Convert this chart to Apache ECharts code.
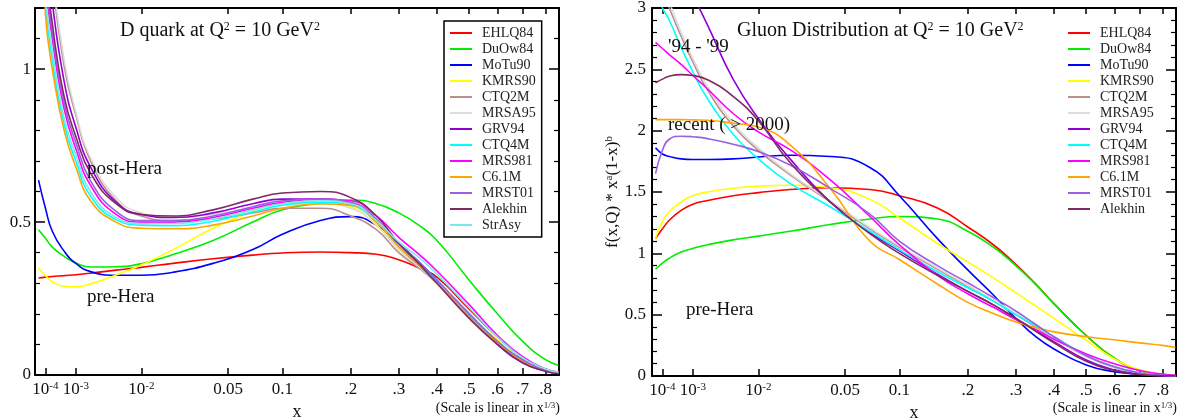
<!DOCTYPE html>
<html><head><meta charset="utf-8">
<script src="https://cdn.jsdelivr.net/npm/echarts@6/dist/echarts.min.js"></script>
<style>html,body{margin:0;padding:0;background:#fff}#c{width:1180px;height:419px}</style>
</head><body><div id="c"></div>
<script>
// ---- data ----
const xSamples = [4e-5, 1e-4, 2e-4, 5e-4, 1e-3, 2e-3, 5e-3, 0.01, 0.02, 0.04, 0.07, 0.1, 0.15, 0.2, 0.25, 0.3, 0.35, 0.4, 0.5, 0.6, 0.7, 0.8, 0.86];
const tickX = [1e-4, 1e-3, 1e-2, 0.05, 0.1, 0.2, 0.3, 0.4, 0.5, 0.6, 0.7, 0.8];
const tickLabels = ['10^-4', '10^-3', '10^-2', '0.05', '0.1', '.2', '.3', '.4', '.5', '.6', '.7', '.8'];

const dNames = ['EHLQ84','DuOw84','MoTu90','KMRS90','CTQ2M','MRSA95','GRV94','CTQ4M','MRS981','C6.1M','MRST01','Alekhin','StrAsy'];
const gNames = ['EHLQ84','DuOw84','MoTu90','KMRS90','CTQ2M','MRSA95','GRV94','CTQ4M','MRS981','C6.1M','MRST01','Alekhin'];

// D quark panel
const dq_EHLQ84 = [0.317, 0.32, 0.322, 0.325, 0.328, 0.333, 0.343, 0.352, 0.365, 0.38, 0.392, 0.399, 0.402, 0.4, 0.395, 0.377, 0.35, 0.32, 0.215, 0.125, 0.057, 0.018, 0.008];
const dq_DuOw84 = [0.475, 0.447, 0.418, 0.388, 0.366, 0.353, 0.354, 0.364, 0.394, 0.44, 0.5, 0.54, 0.562, 0.572, 0.56, 0.53, 0.49, 0.44, 0.31, 0.2, 0.11, 0.05, 0.032];
const dq_MoTu90 = [0.637, 0.545, 0.47, 0.405, 0.365, 0.338, 0.326, 0.326, 0.336, 0.365, 0.41, 0.46, 0.505, 0.518, 0.49, 0.43, 0.37, 0.31, 0.2, 0.11, 0.048, 0.015, 0.007];
const dq_KMRS90 = [0.35, 0.325, 0.305, 0.29, 0.288, 0.298, 0.327, 0.36, 0.41, 0.48, 0.535, 0.56, 0.568, 0.55, 0.49, 0.41, 0.355, 0.3, 0.2, 0.115, 0.05, 0.018, 0.009];
const dq_CTQ2M  = [2.05, 1.55, 1.3, 1.01, 0.85, 0.7, 0.57, 0.52, 0.505, 0.51, 0.53, 0.545, 0.545, 0.52, 0.475, 0.4, 0.35, 0.3, 0.2, 0.11, 0.05, 0.016, 0.008];
const dq_MRSA95 = [2.08, 1.58, 1.32, 1.03, 0.86, 0.71, 0.58, 0.53, 0.515, 0.525, 0.545, 0.56, 0.56, 0.545, 0.49, 0.41, 0.355, 0.3, 0.2, 0.11, 0.05, 0.016, 0.008];
const dq_GRV94  = [1.95, 1.45, 1.22, 0.96, 0.81, 0.68, 0.565, 0.525, 0.515, 0.53, 0.56, 0.575, 0.575, 0.56, 0.505, 0.42, 0.36, 0.3, 0.19, 0.1, 0.04, 0.012, 0.005];
const dq_CTQ4M  = [1.7, 1.22, 1.03, 0.82, 0.7, 0.585, 0.508, 0.49, 0.488, 0.503, 0.533, 0.555, 0.565, 0.555, 0.5, 0.42, 0.365, 0.31, 0.2, 0.11, 0.05, 0.017, 0.008];
const dq_MRS981 = [1.78, 1.3, 1.1, 0.87, 0.74, 0.62, 0.525, 0.5, 0.5, 0.515, 0.545, 0.565, 0.575, 0.57, 0.52, 0.45, 0.395, 0.34, 0.23, 0.13, 0.06, 0.02, 0.01];
const dq_C61M   = [1.65, 1.18, 1.0, 0.8, 0.68, 0.57, 0.5, 0.48, 0.478, 0.49, 0.52, 0.545, 0.56, 0.555, 0.5, 0.42, 0.36, 0.3, 0.19, 0.105, 0.045, 0.015, 0.007];
const dq_MRST01 = [1.8, 1.33, 1.12, 0.89, 0.76, 0.635, 0.535, 0.505, 0.505, 0.52, 0.55, 0.57, 0.575, 0.565, 0.51, 0.43, 0.37, 0.31, 0.2, 0.11, 0.05, 0.016, 0.008];
const dq_Alekhin= [1.85, 1.36, 1.15, 0.91, 0.78, 0.66, 0.56, 0.525, 0.52, 0.54, 0.575, 0.595, 0.6, 0.58, 0.52, 0.43, 0.365, 0.3, 0.185, 0.1, 0.04, 0.012, 0.005];
const dq_StrAsy = [1.72, 1.25, 1.06, 0.84, 0.72, 0.6, 0.515, 0.495, 0.495, 0.51, 0.54, 0.56, 0.57, 0.56, 0.505, 0.435, 0.385, 0.33, 0.22, 0.125, 0.056, 0.02, 0.01];

// Gluon panel
const gl_EHLQ84 = [1.12, 1.2, 1.27, 1.35, 1.4, 1.43, 1.47, 1.495, 1.52, 1.535, 1.52, 1.47, 1.37, 1.215, 1.07, 0.91, 0.75, 0.59, 0.33, 0.145, 0.045, 0.01, 0.003];
const gl_DuOw84 = [0.87, 0.92, 0.96, 1.01, 1.04, 1.07, 1.11, 1.14, 1.18, 1.235, 1.28, 1.3, 1.28, 1.18, 1.05, 0.9, 0.745, 0.59, 0.33, 0.145, 0.045, 0.01, 0.003];
const gl_MoTu90 = [1.86, 1.81, 1.79, 1.77, 1.765, 1.765, 1.77, 1.785, 1.8, 1.79, 1.7, 1.47, 1.12, 0.865, 0.66, 0.47, 0.32, 0.22, 0.09, 0.035, 0.014, 0.005, 0.002];
const gl_KMRS90 = [1.12, 1.26, 1.34, 1.42, 1.47, 1.5, 1.53, 1.548, 1.555, 1.535, 1.44, 1.29, 1.08, 0.93, 0.8, 0.68, 0.57, 0.47, 0.29, 0.14, 0.05, 0.012, 0.004];
const gl_CTQ2M  = [3.35, 3.15, 3.0, 2.77, 2.56, 2.33, 2.04, 1.84, 1.64, 1.42, 1.2, 1.05, 0.87, 0.73, 0.61, 0.5, 0.4, 0.31, 0.16, 0.07, 0.022, 0.005, 0.002];
const gl_MRSA95 = [3.4, 3.2, 3.05, 2.8, 2.59, 2.36, 2.06, 1.86, 1.65, 1.43, 1.21, 1.06, 0.88, 0.74, 0.62, 0.51, 0.41, 0.31, 0.16, 0.07, 0.022, 0.005, 0.002];
const gl_GRV94  = [3.8, 3.65, 3.52, 3.32, 3.11, 2.86, 2.42, 2.1, 1.77, 1.42, 1.17, 1.02, 0.83, 0.69, 0.58, 0.47, 0.37, 0.28, 0.13, 0.05, 0.015, 0.003, 0.001];
const gl_CTQ4M  = [3.15, 3.0, 2.9, 2.68, 2.48, 2.26, 1.97, 1.77, 1.57, 1.38, 1.18, 1.03, 0.85, 0.72, 0.61, 0.5, 0.41, 0.32, 0.17, 0.075, 0.025, 0.006, 0.002];
const gl_MRS981 = [2.72, 2.67, 2.62, 2.54, 2.45, 2.34, 2.14, 1.99, 1.845, 1.6, 1.3, 1.07, 0.82, 0.67, 0.56, 0.46, 0.38, 0.3, 0.18, 0.1, 0.045, 0.015, 0.005];
const gl_C61M   = [2.09, 2.09, 2.09, 2.09, 2.088, 2.085, 2.06, 2.03, 1.885, 1.53, 1.1, 0.95, 0.75, 0.6, 0.51, 0.44, 0.395, 0.36, 0.32, 0.295, 0.27, 0.25, 0.232];
const gl_MRST01 = [1.65, 1.84, 1.93, 1.955, 1.95, 1.935, 1.89, 1.83, 1.72, 1.53, 1.32, 1.1, 0.9, 0.76, 0.64, 0.53, 0.42, 0.32, 0.165, 0.075, 0.025, 0.006, 0.002];
const gl_Alekhin= [2.39, 2.42, 2.444, 2.457, 2.45, 2.415, 2.28, 2.08, 1.74, 1.42, 1.16, 1.0, 0.82, 0.69, 0.58, 0.47, 0.365, 0.27, 0.12, 0.045, 0.012, 0.002, 0.001];

const dqValues = [dq_EHLQ84, dq_DuOw84, dq_MoTu90, dq_KMRS90, dq_CTQ2M, dq_MRSA95, dq_GRV94, dq_CTQ4M, dq_MRS981, dq_C61M, dq_MRST01, dq_Alekhin, dq_StrAsy];
const glValues = [gl_EHLQ84, gl_DuOw84, gl_MoTu90, gl_KMRS90, gl_CTQ2M, gl_MRSA95, gl_GRV94, gl_CTQ4M, gl_MRS981, gl_C61M, gl_MRST01, gl_Alekhin];

// ---- styles ----
const colorOf = {
  EHLQ84:'#ff0000', DuOw84:'#00ee00', MoTu90:'#0000ff', KMRS90:'#ffff00', CTQ2M:'#bc8f8f',
  MRSA95:'#dcdcdc', GRV94:'#9400d3', CTQ4M:'#00ffff', MRS981:'#ff00ff', 'C6.1M':'#ffa500',
  MRST01:'#9b5fdf', Alekhin:'#7f2a64', StrAsy:'#7ee8e8'
};
const FONT = 'Liberation Serif';
const INK = '#111';

const chart = echarts.init(document.getElementById('c'), null, {renderer:'canvas'});

function toRich(lbl) {
  const m = lbl.match(/^10\^(.+)$/);
  return m ? '{b|10}{s|' + m[1] + '}' : '{b|' + lbl + '}';
}
function xFmt(v) {
  for (let j = 0; j < tickX.length; j++) {
    if (Math.abs(Math.cbrt(tickX[j]) - v) < 1e-6) return toRich(tickLabels[j]);
  }
  return '';
}
const tickU = tickX.map(Math.cbrt);
const U_MIN = 0.028, U_MAX = 0.952;
const lineStyleAx = {color:'#000', width:2};

function xAxes(grid) {
  return [
    { type:'value', gridIndex:grid, position:'bottom', min:U_MIN, max:U_MAX,
      axisLine:{show:true, onZero:false, lineStyle:lineStyleAx},
      axisTick:{show:true, inside:true, length:7, customValues:tickU, lineStyle:{color:'#000', width:1.5}},
      axisLabel:{show:true, customValues:tickU, formatter:xFmt, margin:6, color:INK,
        rich:{ b:{fontSize:17, fontFamily:FONT, color:INK}, s:{fontSize:11, fontFamily:FONT, color:INK, verticalAlign:'top'} } },
      splitLine:{show:false},
      name:'x', nameLocation:'middle', nameGap:19, nameTextStyle:{fontSize:18, fontFamily:FONT, color:INK} },
    { type:'value', gridIndex:grid, position:'top', min:U_MIN, max:U_MAX,
      axisLine:{show:true, onZero:false, lineStyle:lineStyleAx},
      axisTick:{show:true, inside:true, length:6, customValues:tickU, lineStyle:{color:'#000', width:1.5}},
      axisLabel:{show:false}, splitLine:{show:false} }
  ];
}
function yAxes(grid, max, labels, margin, name) {
  const base = { type:'value', gridIndex:grid, min:0, max:max, interval:0.5,
      axisLine:{show:true, onZero:false, lineStyle:lineStyleAx},
      axisTick:{show:true, inside:true, length:10, lineStyle:{color:'#000', width:1.5}},
      minorTick:{show:true, splitNumber:5, length:5, lineStyle:{color:'#000', width:1.2}},
      splitLine:{show:false}, minorSplitLine:{show:false} };
  const left = Object.assign({}, base, { position:'left',
      axisLabel:{show:true, customValues:labels, margin:margin, fontSize:17, fontFamily:FONT, color:INK} });
  if (name) {
    Object.assign(left, { name:name, nameLocation:'middle', nameGap:26, nameRotate:90,
      nameTextStyle:{ rich:{ n:{fontSize:17, fontFamily:FONT, color:INK}, s:{fontSize:11, fontFamily:FONT, color:INK, verticalAlign:'top'} } } });
  }
  const right = Object.assign({}, base, { position:'right', axisLabel:{show:false} });
  return [left, right];
}

function mkSeries(names, values, xi, yi) {
  return names.map((nm, k) => ({
    type:'line', name:nm, xAxisIndex:xi, yAxisIndex:yi,
    data: xSamples.map((x, i) => [Math.cbrt(x), values[k][i]]),
    symbol:'none', smooth:0.5, clip:true,
    lineStyle:{width:1.6, color:colorOf[nm]}, itemStyle:{color:colorOf[nm]},
    emphasis:{disabled:true}, silent:true
  }));
}

const legendBase = {
  orient:'vertical', itemWidth:22, itemHeight:2, itemGap:0, icon:'rect',
  textStyle:{fontSize:14, fontFamily:FONT, color:'#222', lineHeight:16, padding:[0,0,0,5]},
  selectedMode:false
};

function txt(x, y, text, size, align, rich) {
  const st = { text:text, fontSize:size, fontFamily:FONT, fill:INK, align:align||'left', verticalAlign:'middle' };
  if (rich) st.rich = rich;
  return { type:'text', x:x, y:y, z:100, style:st, silent:true };
}
const richTitle = { n:{fontSize:20, fontFamily:FONT, fill:INK}, s:{fontSize:12, fontFamily:FONT, fill:INK, verticalAlign:'top'} };
const richNote  = { n:{fontSize:14, fontFamily:FONT, fill:INK}, s:{fontSize:9, fontFamily:FONT, fill:INK, verticalAlign:'top'} };

const option = {
  animation:false,
  backgroundColor:'#fff',
  grid:[
    {left:35, top:8, width:524, height:367, containLabel:false, outerBoundsMode:'none'},
    {left:652, top:8, width:524, height:368, containLabel:false, outerBoundsMode:'none'}
  ],
  xAxis:[...xAxes(0), ...xAxes(1)],
  yAxis:[...yAxes(0, 1.2, [0, 0.5, 1], 4, null),
         ...yAxes(1, 3, [0, 0.5, 1, 1.5, 2, 2.5, 3], 6, '{n|f(x,Q) * x}{s|a}{n|(1-x)}{s|b}')],
  legend:[
    Object.assign({}, legendBase, { data:dNames, left:444, top:21, borderColor:'#000', borderWidth:1.5, padding:[4,6,4,6] }),
    Object.assign({}, legendBase, { data:gNames, left:1062, top:21, padding:[4,6,4,6] })
  ],
  series:[...mkSeries(dNames, dqValues, 0, 0), ...mkSeries(gNames, glValues, 2, 2)],
  graphic:[
    txt(120, 31, '{n|D quark at Q}{s|2}{n| = 10 GeV}{s|2}', 20, 'left', richTitle),
    txt(87, 169, 'post-Hera', 19),
    txt(87, 297, 'pre-Hera', 19),
    txt(560, 408, '{n|(Scale is linear in x}{s|1/3}{n|)}', 14, 'right', richNote),
    txt(737, 31, '{n|Gluon Distribution at Q}{s|2}{n| = 10 GeV}{s|2}', 20, 'left', richTitle),
    txt(668, 47, "'94 - '99", 19),
    txt(668, 125, 'recent ( > 2000)', 19),
    txt(686, 310, 'pre-Hera', 19),
    txt(1177, 408, '{n|(Scale is linear in x}{s|1/3}{n|)}', 14, 'right', richNote)
  ]
};
chart.setOption(option);
</script></body></html>
